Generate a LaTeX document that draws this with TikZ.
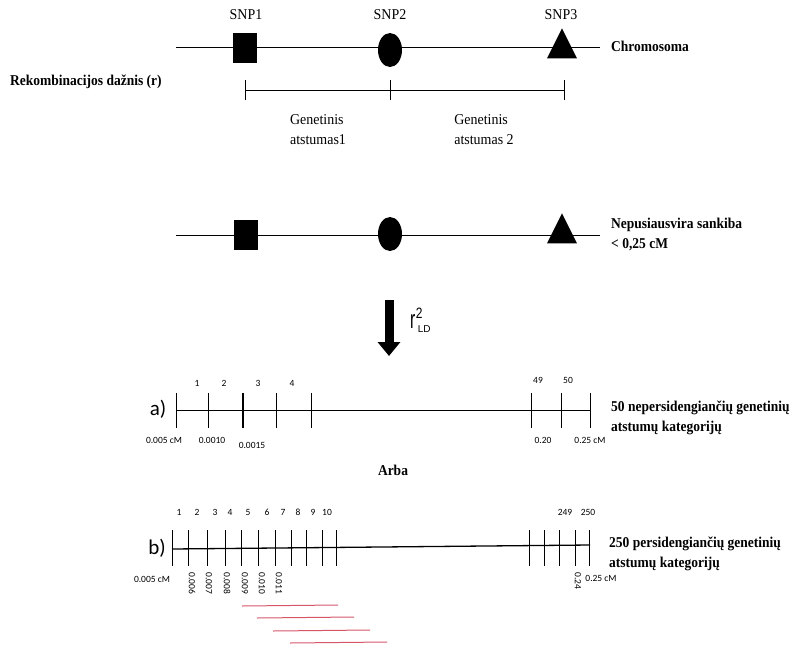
\documentclass[tikz,border=0pt]{standalone}
\usepackage{fontspec}
\setmainfont{Liberation Serif}
\newfontfamily\condserif[FakeStretch=0.93]{Liberation Serif}
\newfontfamily\condbold[FakeStretch=0.9]{Liberation Serif Bold}
\newfontfamily\calf{Carlito}
\newfontfamily\arialf{Liberation Sans}
\newfontfamily\arialc[FakeStretch=0.6]{Liberation Sans}
\newfontfamily\arialm[FakeStretch=0.8]{Liberation Sans}
\usetikzlibrary{shapes.geometric,arrows.meta}
\definecolor{redline}{RGB}{214,86,104}
\tikzset{
  chrom/.style={line width=0.8pt},
  snpsq/.style={draw=none, fill=black, minimum width=24pt, minimum height=30pt, inner sep=0pt},
  snpci/.style={ellipse, draw=none, fill=black, minimum width=24pt, minimum height=34pt, inner sep=0pt},
  snptr/.style={isosceles triangle, isosceles triangle stretches, shape border rotate=90, draw=none, fill=black, minimum width=30pt, minimum height=30pt, inner sep=0pt},
  lbl/.style={font=\condserif\fontsize{15}{20}\selectfont, inner sep=0pt},
  blbl/.style={font=\condbold\fontsize{15}{20}\selectfont, inner sep=0pt, align=left},
  small/.style={font=\calf\fontsize{9.5}{10}\selectfont, inner sep=0pt},
  tick/.style={line width=0.6pt},
  redseg/.style={draw=redline, line width=1pt},
  big/.style={font=\calf\fontsize{21}{21}\selectfont, inner sep=0pt}
}
\begin{document}
\begin{tikzpicture}[x=1pt, y=-1pt]
\useasboundingbox (0,0) rectangle (793,646);
% top chromosome
\coordinate (c1l) at (176,47);
\coordinate (c1r) at (600,47);
\draw[chrom] (c1l) -- (c1r);
\node[snpsq] (s1) at (245,48) {};
\node[snpci] (s2) at (390,50) {};
\node[snptr] (s3) at (562,49) {};
\node[lbl] (t1) at (246,15) {SNP1};
\node[lbl] (t2) at (390,15) {SNP2};
\node[lbl] (t3) at (561,15) {SNP3};
\node[blbl, anchor=west] (chr) at (611,46) {Chromosoma};
\node[blbl, anchor=west] (rek) at (10,82) {Rekombinacijos dažnis (r)};
% distance scale
\coordinate (d1) at (245,90);
\coordinate (d2) at (390,90);
\coordinate (d3) at (564,90);
\draw[tick] (d1) -- (d3);
\foreach \p in {d1,d2,d3} \draw[tick] ([yshift=-10pt]\p) -- ([yshift=10pt]\p);
\node[lbl, align=left] (g1) at (318,130) {Genetinis\\atstumas1};
\node[lbl, align=left] (g2) at (484,130) {Genetinis\\atstumas 2};
% second chromosome
\coordinate (c2l) at (176,235);
\coordinate (c2r) at (600,235);
\draw[chrom] (c2l) -- (c2r);
\node[snpsq] (u1) at (246,235) {};
\node[snpci] (u2) at (390,234) {};
\node[snptr] (u3) at (562,234) {};
\node[blbl, anchor=west] (nep) at (611,234) {Nepusiausvira sankiba\\< 0,25 cM};
% arrow
\coordinate (a1) at (389,300);
\coordinate (a2) at (389,356);
\draw[line width=9pt, -{Triangle[width=22pt,length=14pt]}] (a1) -- (a2);
\node[inner sep=0pt, anchor=base west] (r2) at (410,328)
  {{\arialc\fontsize{26}{26}\selectfont r}\hspace{0.5pt}\rlap{\raisebox{10pt}{\arialm\fontsize{15}{15}\selectfont 2}}\hspace{2pt}\raisebox{-4pt}{\arialf\fontsize{10}{10}\selectfont LD}};
% line a
\coordinate (al) at (176,410);
\coordinate (ar) at (590,410);
\draw[chrom] (al) -- (ar);
\foreach \x in {176,208,276,311,531,561,590} \draw[tick] (\x,393) -- (\x,428);
\draw[line width=1.2pt] (243,393) -- (243,428);
\node[big] (la) at (158,409) {a)};
\node[small] at (197,383) {1};
\node[small] at (224,383) {2};
\node[small] at (258,383) {3};
\node[small] at (292,383) {4};
\node[small] at (538,380) {49};
\node[small] at (568,380) {50};
\node[small] at (164,440) {0.005 cM};
\node[small] at (212,440) {0.0010};
\node[small] at (252,445) {0.0015};
\node[small] at (543,440) {0.20};
\node[small] at (590,440) {0.25 cM};
\node[blbl, anchor=west] (cat50) at (611,418) {50 nepersidengiančių genetinių\\atstumų kategorijų};
\node[blbl] (arba) at (393,470) {Arba};
% line b
\coordinate (bl) at (172,549);
\coordinate (br) at (590,545);
\draw[line width=1.3pt] (bl) -- (br);
\foreach \x in {172,188,207,225,241,258,275,291,306,322,336,529,544,559,575,589} \draw[tick] (\x,530) -- (\x,566);
\node[big] (lb) at (157,548) {b)};
\foreach \x/\n in {179/1,197/2,215/3,230/4,248/5,267/6,283/7,298/8,313/9,327/10,565/249,588/250}
  \node[small] at (\x,512) {\n};
\node[small] at (152,579) {0.005 cM};
\foreach \x/\n in {192/0.006,209/0.007,227/0.008,245/0.009,262/0.010,279/0.011,578/0.24}
  \node[small, rotate=-90, anchor=west] at (\x,572) {\n};
\node[small] at (601,578) {0.25 cM};
\node[blbl, anchor=west] (cat250) at (609,554) {250 persidengiančių genetinių\\atstumų kategorijų};
% red segments
\coordinate (r1a) at (242,606); \coordinate (r1b) at (338,605);
\coordinate (r2a) at (257,618); \coordinate (r2b) at (354,617);
\coordinate (r3a) at (273,631); \coordinate (r3b) at (370,630);
\coordinate (r4a) at (290,643); \coordinate (r4b) at (387,642);
\draw[redseg] (r1a) -- (r1b);
\draw[redseg] (r2a) -- (r2b);
\draw[redseg] (r3a) -- (r3b);
\draw[redseg] (r4a) -- (r4b);
\end{tikzpicture}
\end{document}
